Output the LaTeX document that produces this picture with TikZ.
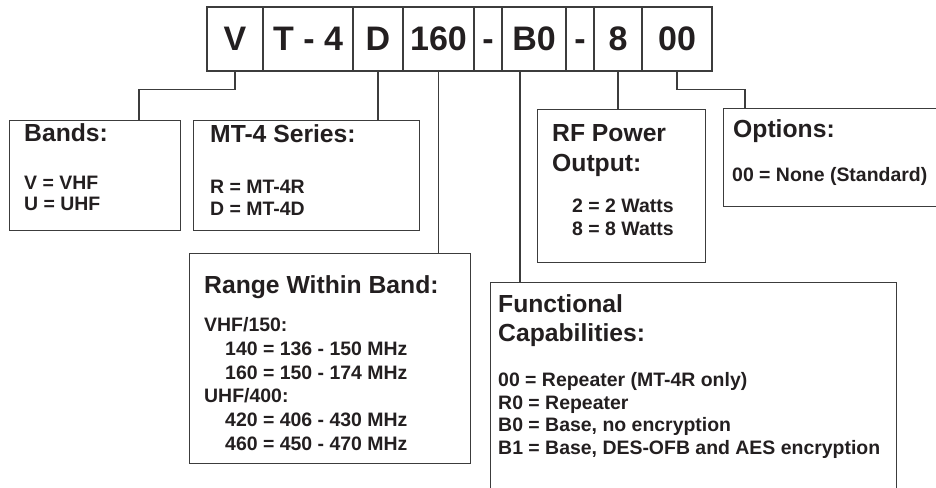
\documentclass[tikz,border=0pt]{standalone}
\usepackage{fontspec}
\setmainfont{Liberation Sans}
\definecolor{ink}{HTML}{231F20}
\definecolor{rule}{HTML}{3C3C3C}
\begin{document}
\begin{tikzpicture}[x=1pt,y=-1pt,
  cell/.style={draw=rule, line width=1.1pt, minimum height=64pt, inner sep=0pt, text=ink,
               text height=24pt, text depth=0pt,
               font=\fontsize{34}{38}\selectfont\bfseries},
  infobox/.style={draw=rule, line width=1.1pt, inner sep=0pt},
  head/.style={anchor=base west, inner sep=0pt, text=ink, font=\fontsize{24.7}{28}\selectfont\bfseries},
  body/.style={anchor=base west, inner sep=0pt, text=ink, font=\fontsize{19.45}{23}\selectfont\bfseries},
  link/.style={draw=rule, line width=1.1pt}]
\useasboundingbox (0,0) rectangle (936,487);
\clip (0,0) rectangle (936,487);
% code cells
\node[cell, minimum width=56pt] (cV) at (235,39) {V};
\node[cell, minimum width=90pt] (cT) at (308,39) {T - 4};
\node[cell, minimum width=50pt] (cD) at (378,39) {D};
\node[cell, minimum width=71pt] (c160) at (438.5,39) {160};
\node[cell, minimum width=28pt] (cd1) at (488,39) {-};
\node[cell, minimum width=64pt] (cB0) at (534,39) {B0};
\node[cell, minimum width=28pt] (cd2) at (580,39) {-};
\node[cell, minimum width=48pt] (c8) at (618,39) {8};
\node[cell, minimum width=70pt] (c00) at (677,39) {00};
% boxes
\node[infobox, anchor=north west, minimum width=171pt, minimum height=110pt] (bands) at (9,120) {};
\node[infobox, anchor=north west, minimum width=226pt, minimum height=110pt] (mt) at (193,120) {};
\node[infobox, anchor=north west, minimum width=281pt, minimum height=210pt] (range) at (189,253) {};
\node[infobox, anchor=north west, minimum width=406pt, minimum height=240pt] (func) at (490,282) {};
\node[infobox, anchor=north west, minimum width=168pt, minimum height=153pt] (rf) at (537,109) {};
\node[infobox, anchor=north west, minimum width=240pt, minimum height=98pt] (opt) at (723,108) {};
% connectors
\draw[link] (cV.south) -- ++(0,18) -| ([xshift=130pt]bands.north west);
\draw[link] (cD.south) -- (cD.south |- mt.north);
\draw[link] (c160.south) -- (c160.south |- range.north);
\draw[link] ([xshift=-14pt]cB0.south) -- ([xshift=-14pt]cB0.south |- func.north);
\draw[link] (c8.south) -- (c8.south |- rf.north);
\draw[link] (c00.south) -- ++(0,18) -| ([xshift=22pt]opt.north west);
% texts
\node[head] (tbands) at (24,141.7) {Bands:};
\node[body] (tb1) at (24,189) {V = VHF};
\node[body] (tb2) at (24,210) {U = UHF};
\node[head] (tmt) at (210,142) {MT-4 Series:};
\node[body] (tm1) at (210,193) {R = MT-4R};
\node[body] (tm2) at (210,215) {D = MT-4D};
\node[head] (trange) at (204,293) {Range Within Band:};
\node[body] (tr1) at (204,331.5) {VHF/150:};
\node[body] (tr2) at (225,355) {140 = 136 - 150 MHz};
\node[body] (tr3) at (225,379) {160 = 150 - 174 MHz};
\node[body] (tr4) at (204,402.7) {UHF/400:};
\node[body] (tr5) at (225,426) {420 = 406 - 430 MHz};
\node[body] (tr6) at (225,450) {460 = 450 - 470 MHz};
\node[head] (tf1) at (498,312.7) {Functional};
\node[head] (tf2) at (498,341.7) {Capabilities:};
\node[body] (tf3) at (498,386.7) {00 = Repeater (MT-4R only)};
\node[body] (tf4) at (498,409) {R0 = Repeater};
\node[body] (tf5) at (498,431.7) {B0 = Base, no encryption};
\node[body] (tf6) at (498,454.3) {B1 = Base, DES-OFB and AES encryption};
\node[head] (trf1) at (552,141) {RF Power};
\node[head] (trf2) at (552,171) {Output:};
\node[body] (trf3) at (572,212) {2 = 2 Watts};
\node[body] (trf4) at (572,235) {8 = 8 Watts};
\node[head] (topt) at (733,137) {Options:};
\node[body] (topt1) at (732,181) {00 = None (Standard)};
\end{tikzpicture}
\end{document}
